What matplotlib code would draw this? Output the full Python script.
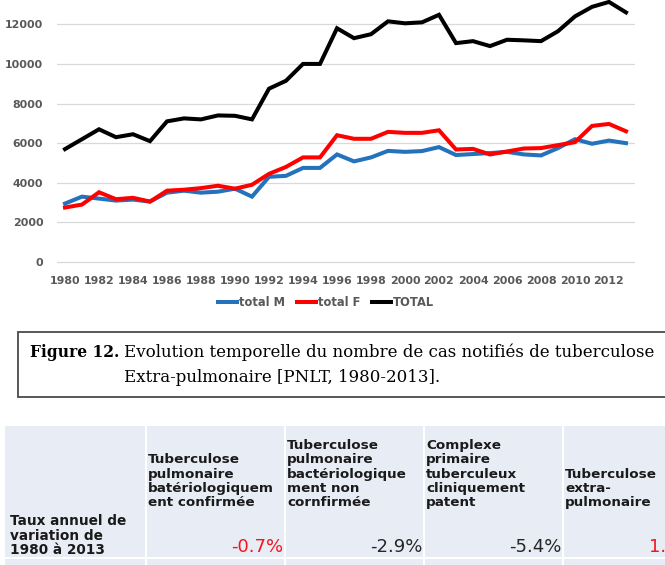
import matplotlib

matplotlib.use("Agg")

import matplotlib.pyplot as plt
from matplotlib.patches import Rectangle

# chart data
years = list(range(1980, 2014))
total_m = [2950, 3300, 3200, 3100, 3150, 3050, 3500, 3600, 3500, 3550,
           3700, 3300, 4300, 4350, 4750, 4750, 5430, 5080, 5280, 5610,
           5560, 5600, 5800, 5400, 5450, 5500, 5560, 5430, 5380, 5750,
           6200, 5970, 6130, 6000]
total_f = [2750, 2900, 3520, 3170, 3240, 3050, 3600, 3650, 3730, 3850,
           3700, 3900, 4450, 4800, 5280, 5280, 6400, 6220, 6220, 6570,
           6520, 6520, 6650, 5680, 5710, 5430, 5580, 5730, 5750, 5900,
           6050, 6870, 6970, 6600]
total = [5700, 6200, 6700, 6300, 6450, 6100, 7100, 7250, 7200, 7400,
         7380, 7200, 8750, 9150, 10000, 10000, 11800, 11300, 11500, 12150,
         12050, 12100, 12480, 11050, 11150, 10900, 11220, 11190, 11150, 11650,
         12400, 12880, 13130, 12600]

series_labels = ["total M", "total F", "TOTAL"]
series_colors = ["#2472BC", "#FF0000", "#000000"]

y_ticks = [0, 2000, 4000, 6000, 8000, 10000, 12000]
x_ticks = list(range(1980, 2013, 2))

caption_bold = "Figure 12."
caption_lines = [
    "Evolution temporelle du nombre de cas notifiés de tuberculose",
    "Extra-pulmonaire [PNLT, 1980-2013].",
]

row_label = "Taux annuel de\nvariation de\n1980 à 2013"
col_headers = [
    "Tuberculose\npulmonaire\nbatériologiquem\nent confirmée",
    "Tuberculose\npulmonaire\nbactériologique\nment non\ncornfirmée",
    "Complexe\nprimaire\ntuberculeux\ncliniquement\npatent",
    "Tuberculose\nextra-\npulmonaire",
]
rates = ["-0.7%", "-2.9%", "-5.4%", "1.5%"]
rate_colors = ["#F5141E", "#262626", "#262626", "#F5141E"]

W, H = 665, 565
TICK_GREY = "#595959"
GRID = "#D9D9D9"
TABLE_BG = "#E8ECF4"


def fx(x):
    return x / W


def fy(y):
    return 1 - y / H


fig = plt.figure(figsize=(W / 100, H / 100), dpi=100)

# --- line chart ---
ax = fig.add_axes([fx(56.5), fy(266), 578 / W, 266 / H])
for values, label, color in zip([total_m, total_f, total], series_labels, series_colors):
    ax.plot(years, values, color=color, linewidth=2.9, label=label, solid_joinstyle="miter")

ax.set_xlim(1979.5, 2013.5)
ax.set_ylim(-202, 13227)
ax.set_xticks(x_ticks)
ax.set_yticks(y_ticks)
ax.tick_params(length=0, labelsize=7.9, labelcolor=TICK_GREY)
ax.tick_params(axis="y", pad=9.5)
ax.tick_params(axis="x", pad=7)
for lab in ax.get_xticklabels() + ax.get_yticklabels():
    lab.set_fontweight("bold")
ax.yaxis.grid(True, color=GRID, linewidth=0.9)
ax.set_axisbelow(True)
for spine in ax.spines.values():
    spine.set_visible(False)

handles, labels = ax.get_legend_handles_labels()
fig.legend(handles, labels, loc="center", bbox_to_anchor=(fx(326), fy(303)), ncol=3,
           frameon=False, handlelength=1.7, handletextpad=0.15, columnspacing=1.0,
           labelcolor=TICK_GREY, prop={"size": 8.3, "weight": "bold"})

# --- caption box ---
fig.patches.append(Rectangle((fx(18), fy(397)), fx(700) - fx(18), (397 - 332) / H,
                             transform=fig.transFigure, facecolor="white",
                             edgecolor="#4a4a4a", linewidth=1.3))
serif = "DejaVu Serif"
fig.text(fx(30), fy(357), caption_bold, family=serif, weight="bold", size=11.2, va="baseline")
fig.text(fx(124), fy(357), caption_lines[0], family=serif, size=12.0, va="baseline")
fig.text(fx(124), fy(382), caption_lines[1], family=serif, size=12.0, va="baseline")

# --- table ---
fig.patches.append(Rectangle((fx(5), fy(565)), fx(665) - fx(5), (565 - 426) / H,
                             transform=fig.transFigure, facecolor=TABLE_BG, edgecolor="none"))
separators = [146, 285, 424, 563]
for sx in separators:
    fig.add_artist(plt.Line2D([fx(sx), fx(sx)], [fy(426), fy(565)], transform=fig.transFigure,
                              color="white", linewidth=1.5))
fig.add_artist(plt.Line2D([fx(5), fx(665)], [fy(557.5), fy(557.5)], transform=fig.transFigure,
                          color="white", linewidth=1.5))

line_step = 14.3
for i, line in enumerate(reversed(row_label.split("\n"))):
    fig.text(fx(10), fy(550 - i * line_step), line, size=9.8, weight="bold",
             color="#1a1a1a", va="center")

col_rights = separators[1:] + [697]
for left, right, header, rate, rcolor in zip(separators, col_rights, col_headers, rates, rate_colors):
    for i, line in enumerate(reversed(header.split("\n"))):
        fig.text(fx(left + 2), fy(502.7 - i * line_step), line, size=9.7, weight="bold",
                 color="#1a1a1a", va="center")
    fig.text(fx(right - 2), fy(547.5), rate, size=13, color=rcolor, ha="right", va="center")

fig.savefig("out.png", dpi=100)
